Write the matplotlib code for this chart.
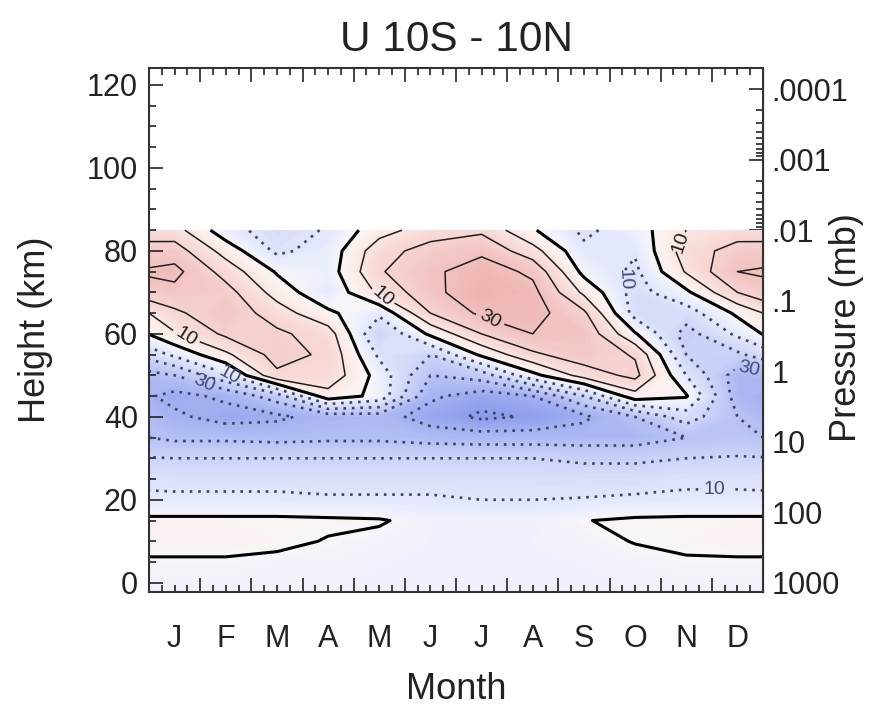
import numpy as np
import matplotlib.pyplot as plt
from matplotlib.colors import LinearSegmentedColormap
from matplotlib.ticker import AutoMinorLocator, FixedLocator

plt.rcParams['font.family'] = ['Liberation Sans', 'DejaVu Sans']

# monthly mean zonal wind U (m/s) averaged over 10S - 10N
months = ['J', 'F', 'M', 'A', 'M', 'J', 'J', 'A', 'S', 'O', 'N', 'D']
month_mid = np.arange(12) + 0.5
heights = [-2, 5, 10, 15, 20, 25, 30, 35, 40, 45, 50, 55, 60, 65, 70, 75, 80, 85]

u_wind = [
    #  J     F     M     A     M     J     J     A     S     O     N     D
    [-3.0, -3.0, -3.0, -3.0, -3.0, -3.0, -3.0, -3.0, -3.0, -3.0, -3.0, -3.0],  # -2 km
    [-1.0, -1.0, -2.0, -2.0, -3.0, -3.0, -3.0, -3.0, -3.0, -2.0, -1.0, -1.0],  # 5
    [3.0, 3.0, 2.0, -0.5, -2.0, -3.0, -3.0, -3.0, -2.0, 0.3, 2.0, 3.0],        # 10
    [2.0, 2.0, 2.0, 1.5, 0.8, -3.0, -4.0, -4.0, -0.3, 1.5, 2.0, 2.0],          # 15
    [-8.0, -8.0, -8.0, -9.0, -9.0, -9.0, -10.0, -10.0, -9.5, -8.5, -8.0, -8.0],  # 20
    [-13, -13, -13, -13, -13, -13, -13, -13, -14, -14, -12, -12],  # 25
    [-20, -20, -20, -20, -20, -20, -20, -20, -22, -22, -20, -19],  # 30
    [-32, -32, -33, -32, -32, -34, -35, -35, -35, -35, -30, -28],  # 35
    [-38, -44, -42, -36, -35, -45, -52, -49, -42, -30, -15, -30],  # 40
    [-43, -38, -25, 6, -3, -38, -45, -40, -20, 6, 1, -35],         # 45
    [-30, -12, 18, 17, -4, -30, -25, -3, 14, 23, -10, -35],        # 50
    [-8, 8, 24, 18, -12, -20, 2, 18, 26, 19, -20, -22],            # 55
    [9, 22, 22, 15, -20, 2, 20, 30, 28, 1, -24, -8],               # 60
    [18, 27, 15, 2, -8, 20, 32, 34, 22, -14, -15, 2],              # 65
    [27, 24, 6, -8, 12, 27, 37, 33, 8, -14, -2, 20],               # 70
    [33, 16, -1, -5, 19, 28, 35, 28, -3, -12, 11, 30],             # 75
    [25, 6, -12, -6, 16, 24, 28, 14, -8, -9, 15, 24],              # 80
    [14, -6, -15, -9, 6, 15, 18, 1, -12, -5, 10, 15],              # 85
]

pressure_ticks = [1000, 100, 10, 1, 0.1, 0.01, 0.001, 0.0001]
pressure_labels = ['1000', '100', '10', '1', '.1', '.01', '.001', '.0001']
km_per_decade = 17.0

u = np.array(u_wind)
# wrap the annual cycle so the fill reaches both edges
x = np.concatenate([[month_mid[0] - 1], month_mid, [month_mid[-1] + 1]])
uu = np.column_stack([u[:, -1], u, u[:, 0]])

cmap = LinearSegmentedColormap.from_list('uwind', [
    (0.00, '#8494ea'),
    (0.15, '#a3b0f1'),
    (0.35, '#ccd3f8'),
    (0.50, '#ebeefc'),
    (0.55, '#f8f6f8'),
    (0.60, '#fcefec'),
    (0.75, '#f6d4d1'),
    (1.00, '#eaa5a2'),
])

fig = plt.figure(figsize=(8.74, 7.08), dpi=100)
ax = fig.add_axes([0.1705, 0.164, 0.7025, 0.740])

ax.contourf(x, heights, uu, levels=np.arange(-55, 46, 1), cmap=cmap, extend='both')

neg_style = dict(colors='#3d4463', linewidths=1.9, linestyles=[(0, (1, 2.2))])
pos_style = dict(colors='#1e1e1e', linewidths=1.1)
ax.contour(x, heights, uu, levels=[-50, -40, -20], **neg_style)
neg = ax.contour(x, heights, uu, levels=[-30, -10], **neg_style)
ax.contour(x, heights, uu, levels=[0], colors='black', linewidths=2.2)
ax.contour(x, heights, uu, levels=[20], **pos_style)
pos = ax.contour(x, heights, uu, levels=[10, 30], **pos_style)

fmt = lambda v: f'{abs(v):.0f}'
ax.clabel(pos, fmt=fmt, fontsize=14, inline=True, inline_spacing=4,
          manual=[(0.77, 60.0), (4.5, 68.5), (6.7, 64.0), (10.45, 82.0)])
neg_lab = ax.clabel(neg, fmt=fmt, fontsize=14, inline=True, inline_spacing=4,
                    manual=[(1.1, 48.4), (1.55, 50.0), (9.33, 73.0), (11.7, 51.0), (11.05, 21.7)])
for t in neg_lab:
    t.set_color('#3d4a7a')

ax.set_xlim(0, 12)
ax.set_ylim(-2.2, 124.1)

# month boundaries as ticks, initials centred on each month
ax.set_xticks(range(13))
ax.set_xticklabels([])
ax.xaxis.set_minor_locator(AutoMinorLocator(4))
ax.set_yticks(range(0, 121, 20))
ax.yaxis.set_minor_locator(AutoMinorLocator(4))
ax.tick_params(which='both', direction='in', top=True, right=False, labelsize=22,
               colors='#222222', width=1.2)
ax.tick_params(which='major', length=10)
ax.tick_params(which='minor', length=5)
ax.tick_params(axis='y', pad=8)

mon = ax.secondary_xaxis('bottom')
mon.set_xticks(month_mid, months)
mon.tick_params(length=0, labelsize=22, pad=23, colors='#222222')
mon.spines['bottom'].set_visible(False)
mon.set_xlabel('Month', fontsize=26, color='#222222', labelpad=13)

pres = ax.secondary_yaxis('right', functions=(
    lambda z: 1000.0 * 10 ** (-np.asarray(z) / km_per_decade),
    lambda p: km_per_decade * np.log10(1000.0 / np.clip(np.asarray(p), 1e-12, None))))
pres.yaxis.set_major_locator(FixedLocator(pressure_ticks))
pres.set_yticklabels(pressure_labels)
minor_p = [k * 10.0 ** e for e in range(-4, 3) for k in range(2, 10)]
pres.yaxis.set_minor_locator(FixedLocator(minor_p))
pres.tick_params(which='both', direction='in', labelsize=22, colors='#222222', width=1.2)
pres.tick_params(which='major', length=10, pad=6)
pres.tick_params(which='minor', length=5)
fig.text(0.968, 0.538, 'Pressure (mb)', rotation=90, ha='center', va='center',
         fontsize=26, color='#222222')

ax.set_ylabel('Height (km)', fontsize=26, color='#222222', labelpad=24)
ax.set_title('U 10S - 10N', fontsize=30.5, color='#222222', pad=12)

for s in ax.spines.values():
    s.set_linewidth(1.5)
    s.set_color('#333333')

fig.savefig('out.png', dpi=100, facecolor='white')
